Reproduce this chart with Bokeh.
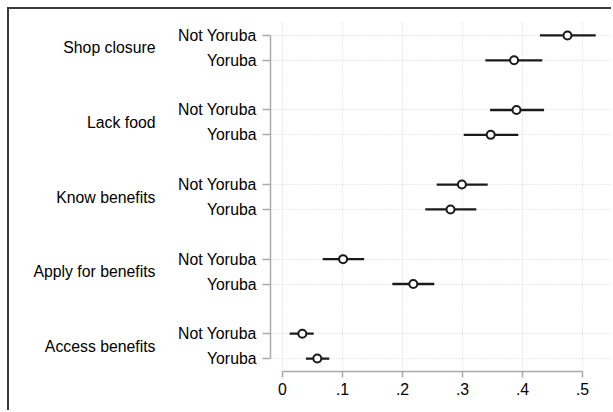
from bokeh.plotting import figure
from bokeh.models import FixedTicker, LinearAxis, ColumnDataSource, Range1d
from bokeh.embed import file_html
from bokeh.resources import INLINE

# ---- data ----
groups = ["Shop closure", "Lack food", "Know benefits", "Apply for benefits", "Access benefits"]
series = ["Not Yoruba", "Yoruba"]
not_yoruba_est = [0.475, 0.390, 0.299, 0.101, 0.033]
not_yoruba_lo = [0.429, 0.346, 0.257, 0.067, 0.012]
not_yoruba_hi = [0.522, 0.436, 0.342, 0.136, 0.052]
yoruba_est = [0.386, 0.347, 0.280, 0.218, 0.058]
yoruba_lo = [0.338, 0.302, 0.238, 0.183, 0.039]
yoruba_hi = [0.433, 0.393, 0.323, 0.253, 0.078]
x_ticks = [0, 0.1, 0.2, 0.3, 0.4, 0.5]
x_tick_labels = ["0", ".1", ".2", ".3", ".4", ".5"]

# row positions (top group first); each group: Not Yoruba above Yoruba, gap of one blank row
n = len(groups)
y_not = [3 * (n - 1 - i) + 2 for i in range(n)]
y_yor = [3 * (n - 1 - i) + 1 for i in range(n)]
y_mid = [(a + b) / 2 for a, b in zip(y_not, y_yor)]

FONT = "Liberation Sans"
FS = "15.8px"

W, H = 604, 403
LEFT = 261
p = figure(width=W, height=H, output_backend="svg", toolbar_location=None,
           x_range=Range1d(-0.02, -0.02 + (W - LEFT) / 600.0), y_range=Range1d(0.48, 14.52),
           min_border_left=LEFT, min_border_top=13, min_border_right=0, min_border_bottom=41)
p.margin = (7, 0, 0, 7)
p.outline_line_color = None
p.background_fill_color = "white"
p.border_fill_color = "white"
p.styles = {"border-left": "2px solid #3a3a3a", "border-top": "2px solid #3a3a3a"}

src = ColumnDataSource(dict(
    y=y_not + y_yor,
    est=not_yoruba_est + yoruba_est,
    lo=not_yoruba_lo + yoruba_lo,
    hi=not_yoruba_hi + yoruba_hi,
))
p.segment(x0="lo", x1="hi", y0="y", y1="y", source=src, line_color="#1a1a1a", line_width=2.3)
p.scatter(x="est", y="y", source=src, marker="circle", size=8, fill_color="white",
          line_color="#1a1a1a", line_width=2)

# x axis
xa = p.xaxis[0]
xa.ticker = FixedTicker(ticks=x_ticks)
xa.major_label_overrides = {t: l for t, l in zip(x_ticks, x_tick_labels)}
xa.bounds = (x_ticks[0], x_ticks[-1])
xa.axis_line_color = "#aaaaaa"
xa.axis_line_width = 1.5
xa.major_tick_line_color = "#aaaaaa"
xa.major_tick_line_width = 1.5
xa.major_tick_out = 6
xa.major_tick_in = 0
xa.minor_tick_line_color = None
xa.major_label_standoff = 5
xa.major_label_text_font = FONT
xa.major_label_text_font_size = FS
xa.major_label_text_color = "#000000"

# y axis (series labels)
ya = p.yaxis[0]
ya.ticker = FixedTicker(ticks=y_not + y_yor)
ya.major_label_overrides = {**{y: series[0] for y in y_not}, **{y: series[1] for y in y_yor}}
ya.bounds = (min(y_yor), max(y_not))
ya.axis_line_color = "#aaaaaa"
ya.axis_line_width = 1.5
ya.major_tick_line_color = "#aaaaaa"
ya.major_tick_line_width = 1.5
ya.major_tick_out = 8
ya.major_tick_in = 0
ya.minor_tick_line_color = None
ya.major_label_standoff = 6
ya.major_label_text_font = FONT
ya.major_label_text_font_size = FS
ya.major_label_text_color = "#000000"

# outer axis for group labels
ga = LinearAxis(ticker=FixedTicker(ticks=y_mid),
                major_label_overrides={y: g for y, g in zip(y_mid, groups)})
ga.axis_line_color = None
ga.major_tick_line_color = None
ga.minor_tick_line_color = None
ga.major_tick_out = 0
ga.major_tick_in = 0
ga.major_label_standoff = 20
ga.major_label_text_font = FONT
ga.major_label_text_font_size = FS
ga.major_label_text_color = "#000000"
p.add_layout(ga, "left")

# grids
p.xgrid.ticker = FixedTicker(ticks=x_ticks)
p.ygrid.ticker = FixedTicker(ticks=y_not + y_yor)
for g in (p.xgrid[0], p.ygrid[0]):
    g.grid_line_color = "#d4d4d4"
    g.grid_line_dash = "1 2"
    g.grid_line_width = 1

open("out.html", "w").write(file_html(p, INLINE))
